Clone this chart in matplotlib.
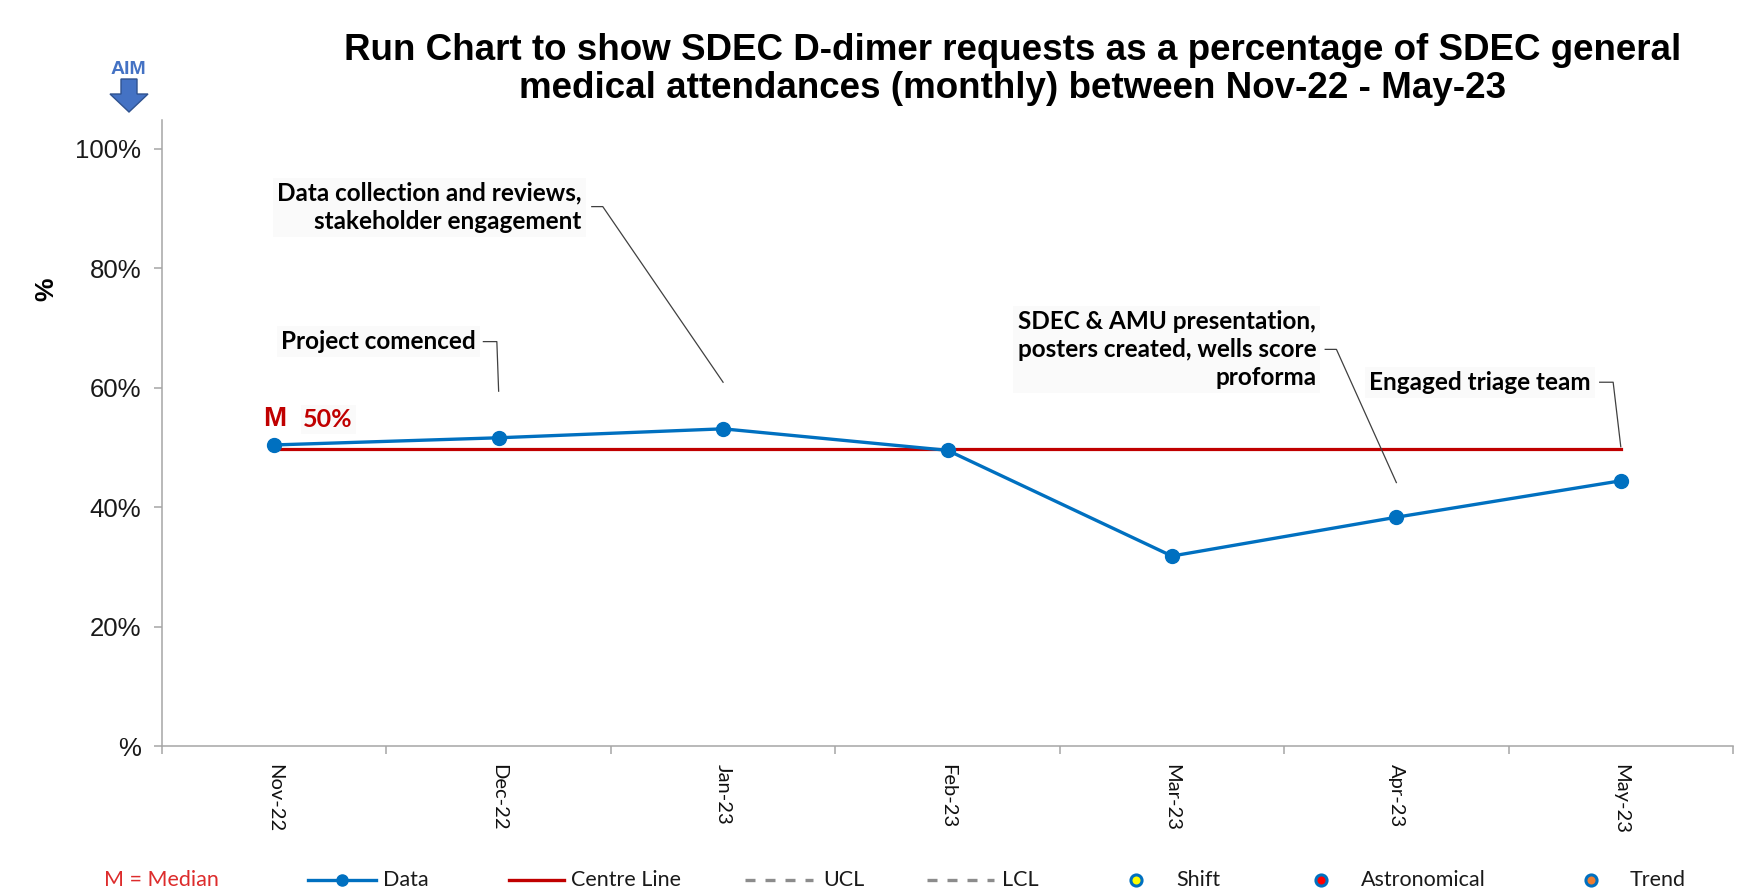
import matplotlib
matplotlib.use("Agg")
import matplotlib.pyplot as plt
from matplotlib.lines import Line2D
from matplotlib.patches import Polygon

# data
months = ["Nov-22", "Dec-22", "Jan-23", "Feb-23", "Mar-23", "Apr-23", "May-23"]
pct = [0.504, 0.516, 0.531, 0.495, 0.318, 0.383, 0.444]
centre = [0.498, 0.498, 0.498, 0.498, 0.498, 0.498, 0.498]
y_ticks = [0.0, 0.2, 0.4, 0.6, 0.8, 1.0]
y_tick_labels = ["%", "20%", "40%", "60%", "80%", "100%"]

# annotation text, text anchor (x, y), leader line points
notes = [
    ("Project comenced", (0.90, 0.677), [(0.932, 0.677), (0.992, 0.677), (1.0, 0.594)]),
    ("Data collection and reviews,\nstakeholder engagement", (1.37, 0.902),
     [(1.415, 0.903), (1.464, 0.903), (2.0, 0.609)]),
    ("SDEC & AMU presentation,\nposters created, wells score\nproforma", (4.643, 0.664),
     [(4.683, 0.664), (4.733, 0.664), (5.0, 0.441)]),
    ("Engaged triage team", (5.867, 0.609), [(5.906, 0.609), (5.966, 0.609), (6.0, 0.501)]),
]

BLUE = "#0070C0"
RED = "#C00000"
GREY = "#A6A6A6"
CAL = "Lato"
ARIAL = "Liberation Sans"

fig = plt.figure(figsize=(17.51, 8.92), dpi=100)
ax = fig.add_axes([162 / 1751, 1 - 746 / 892, (1733 - 162) / 1751, (746 - 120) / 892])

x = list(range(len(months)))
ax.plot(x, centre, color=RED, lw=2.3, zorder=2)
ax.plot(x, pct, color=BLUE, lw=2.4, marker="o", markersize=10, zorder=3)

ax.set_xlim(-0.5, len(months) - 0.5)
ax.set_ylim(0, 1.048)

ax.set_yticks(y_ticks)
ax.set_yticklabels(y_tick_labels, fontfamily=ARIAL, fontsize=18.5, color="#1a1a1a")
ax.set_xticks(x)
ax.set_xticklabels(months, rotation=-90, fontfamily=CAL, fontsize=14.5, color="#111111")
ax.set_xticks([i - 0.5 for i in range(len(months) + 1)], minor=True)
ax.tick_params(axis="x", which="major", length=0, pad=13)
ax.tick_params(axis="x", which="minor", length=6, width=1.1, color=GREY)
ax.tick_params(axis="y", length=6, width=1.1, color=GREY, pad=9)
for lab in ax.get_xticklabels():
    lab.set_va("top")

for s in ["top", "right"]:
    ax.spines[s].set_visible(False)
for s in ["left", "bottom"]:
    ax.spines[s].set_color(GREY)
    ax.spines[s].set_linewidth(1.1)

# median marker text
ax.text(0.0, 0.547, "M", color=RED, fontfamily=ARIAL, fontweight="bold", fontsize=20,
        ha="center", va="center")
ax.text(0.13, 0.547, "50%", color=RED, fontfamily=CAL, fontweight="bold", fontsize=18,
        ha="left", va="center",
        bbox=dict(facecolor="#FAFAFA", edgecolor="none", pad=2))

# annotations with leader lines
for txt, (tx, ty), pts in notes:
    ax.text(tx, ty, txt, ha="right", va="center", multialignment="right",
            fontfamily=CAL, fontweight="bold", fontsize=17.5, color="#000000",
            linespacing=1.25, bbox=dict(facecolor="#FAFAFA", edgecolor="none", pad=3))
    ax.plot([p[0] for p in pts], [p[1] for p in pts], color="#404040", lw=0.9,
            clip_on=False, zorder=4)

ax.set_ylabel("%", fontfamily=ARIAL, fontweight="bold", fontsize=19)
ax.yaxis.set_label_coords(-0.066, 0.73)

# title
fig.text(1013 / 1751, 1 - 51 / 892,
         "Run Chart to show SDEC D-dimer requests as a percentage of SDEC general",
         ha="center", va="center", fontfamily=ARIAL, fontweight="bold", fontsize=26.5)
fig.text(1013 / 1751, 1 - 89 / 892,
         "medical attendances (monthly) between Nov-22 - May-23",
         ha="center", va="center", fontfamily=ARIAL, fontweight="bold", fontsize=26.5)

# overlay in pixel coordinates for the AIM arrow and the legend row
ov = fig.add_axes([0, 0, 1, 1])
ov.set_xlim(0, 1751)
ov.set_ylim(892, 0)
ov.axis("off")

ov.text(128, 70, "AIM", color="#4472C4", fontfamily=ARIAL, fontweight="bold",
        fontsize=14, ha="center", va="center")
arrow = [(121, 79), (137, 79), (137, 94), (148, 94), (129, 112), (110, 94), (121, 94)]
ov.add_patch(Polygon(arrow, closed=True, facecolor="#4472C4", edgecolor="#2F528F", lw=1))

ly = 880
fs = 15.5
ov.text(161, ly, "M = Median", color="#DD2C2C", fontfamily=CAL, fontsize=fs,
        ha="center", va="center")
ov.add_line(Line2D([308, 376], [ly, ly], color=BLUE, lw=2.4))
ov.plot([342], [ly], marker="o", color=BLUE, markersize=8)
ov.text(383, ly, "Data", fontfamily=CAL, fontsize=fs, ha="left", va="center", color="#1a1a1a")
ov.add_line(Line2D([509, 564], [ly, ly], color=RED, lw=2.4))
ov.text(571, ly, "Centre Line", fontfamily=CAL, fontsize=fs, ha="left", va="center", color="#1a1a1a")
ov.add_line(Line2D([745, 813], [ly, ly], color="#8C8C8C", lw=2.4, ls=(0, (3, 3))))
ov.text(823, ly, "UCL", fontfamily=CAL, fontsize=fs, ha="left", va="center", color="#1a1a1a")
ov.add_line(Line2D([927, 994], [ly, ly], color="#8C8C8C", lw=2.4, ls=(0, (3, 3))))
ov.text(1002, ly, "LCL", fontfamily=CAL, fontsize=fs, ha="left", va="center", color="#1a1a1a")

for mx, fc, tx, lab in [(1136, "#FFFF00", 1176, "Shift"),
                        (1321, "#FF0000", 1361, "Astronomical"),
                        (1591, "#ED7D31", 1630, "Trend")]:
    ov.plot([mx], [ly], marker="o", markersize=8, markerfacecolor=fc,
            markeredgecolor=BLUE, markeredgewidth=2.2)
    ov.text(tx, ly, lab, fontfamily=CAL, fontsize=fs, ha="left", va="center", color="#1a1a1a")

fig.savefig("out.png", dpi=100)
